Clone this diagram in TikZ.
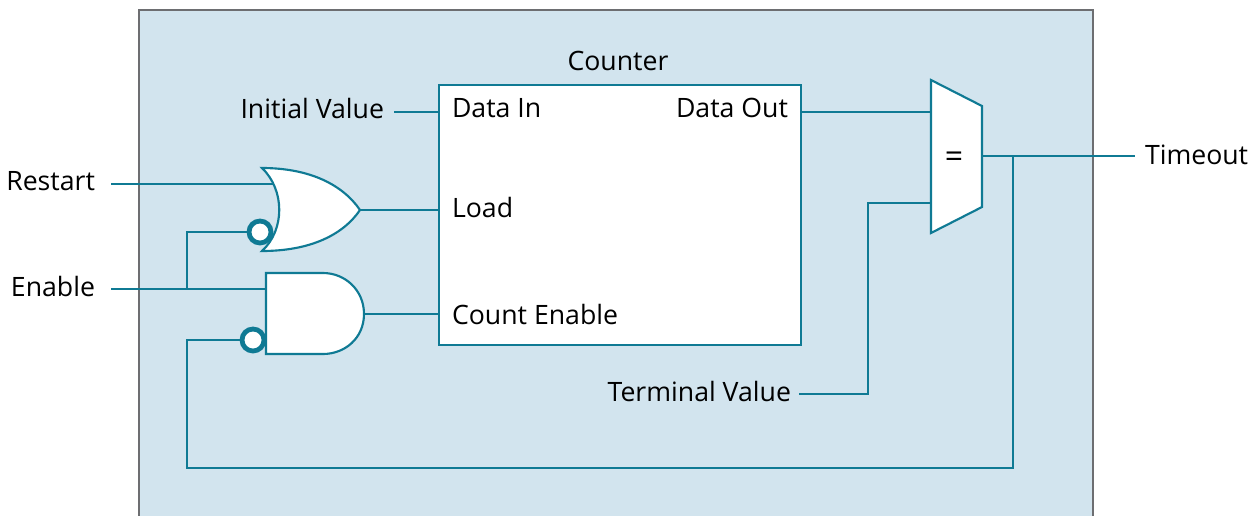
\documentclass[tikz,border=0pt]{standalone}
\usepackage{fontspec}
\setmainfont{Open Sans}
\definecolor{panelblue}{HTML}{D2E4EE}
\definecolor{wireteal}{HTML}{0F7A94}
\definecolor{framegray}{HTML}{6D6E71}
\tikzset{
	wire/.style={draw=wireteal,line width=1.6pt},
	part/.style={draw=wireteal,line width=1.6pt,fill=white,line join=miter},
	bubble/.style={circle,draw=wireteal,line width=3.6pt,fill=white,minimum size=16.5pt,inner sep=0,outer sep=0},
	sig/.style={inner sep=0,outer sep=0,font=\fontsize{20}{20}\selectfont,text=black},
}
\begin{document}
\begin{tikzpicture}[x=0.75pt,y=-0.75pt]
	\useasboundingbox (0,0) rectangle (1258,515);
	% Panel
	\path[fill=panelblue,draw=framegray,line width=1.8pt] (139,530) -- (139,10) -- (1093,10) -- (1093,530);
	% Signals outside the counter
	\node[sig,anchor=east] (restart) at (95,181) {Restart};
	\node[sig,anchor=east] (enable) at (95,286) {Enable};
	\node[sig,anchor=east] (initial) at (384,108) {Initial Value};
	\node[sig,anchor=east] (terminal) at (791,391) {Terminal Value};
	\node[sig,anchor=west] (timeout) at (1145,155) {Timeout};
	% Ports
	\coordinate (restart out) at (111,184);
	\coordinate (enable out) at (111,289);
	\coordinate (initial out) at (394,112);
	\coordinate (terminal out) at (799,394);
	\coordinate (timeout in) at (1135,156);
	\coordinate (or a) at (274,184);
	\coordinate (or out) at (360,210);
	\coordinate (and a) at (266,289);
	\coordinate (and out) at (364,314);
	\coordinate (mux a) at (931,112);
	\coordinate (mux b) at (931,203);
	\coordinate (mux out) at (982,156);
	\coordinate (enable tap) at (187,289);
	\coordinate (timeout tap) at (1013,156);
	% Counter
	\node[part,rectangle,minimum width=271.5pt,minimum height=195pt,inner sep=0,outer sep=0] (counter) at (620,215) {};
	\node[sig] (countername) at (618,61) {Counter};
	\node[sig,anchor=west] (datain) at (452,108) {Data In};
	\node[sig,anchor=east] (dataout) at (788,108) {Data Out};
	\node[sig,anchor=west] (load) at (452,207) {Load};
	\node[sig,anchor=west] (countenable) at (452,314) {Count Enable};
	% Wires
	\draw[wire] (restart out) -- (or a);
	\draw[wire] (enable out) -- (and a);
	\draw[wire] (initial out) -- (initial out -| counter.west);
	\draw[wire] (or out) -- (or out -| counter.west);
	\draw[wire] (and out) -- (and out -| counter.west);
	\draw[wire] (mux a -| counter.east) -- (mux a);
	\draw[wire] (terminal out) -| (868,203) -- (mux b);
	\draw[wire] (mux out) -- (timeout in);
	% Gates
	\draw[part] (262,168) .. controls (310,168) and (343,185) .. (or out)
		.. controls (343,235) and (310,251) .. (262,251)
		.. controls (285,230) and (285,190) .. cycle;
	\draw[part] (266,273) -- (323,273) .. controls (345,273) and (364,290) .. (and out)
		.. controls (364,338) and (345,354) .. (323,354) -- (266,354) -- cycle;
	\draw[part] (931,80) -- (982,106) -- (982,207) -- (931,233) -- cycle;
	\node[sig,font=\fontsize{24}{24}\selectfont] (equal) at (954,160) {=};
	% Inverted inputs
	\node[bubble] (or inv) at (260,232) {};
	\node[bubble] (and inv) at (253,340) {};
	\draw[wire] (enable tap) |- (or inv);
	\draw[wire] (and inv) -| (187,468) -| (timeout tap);
\end{tikzpicture}
\end{document}
